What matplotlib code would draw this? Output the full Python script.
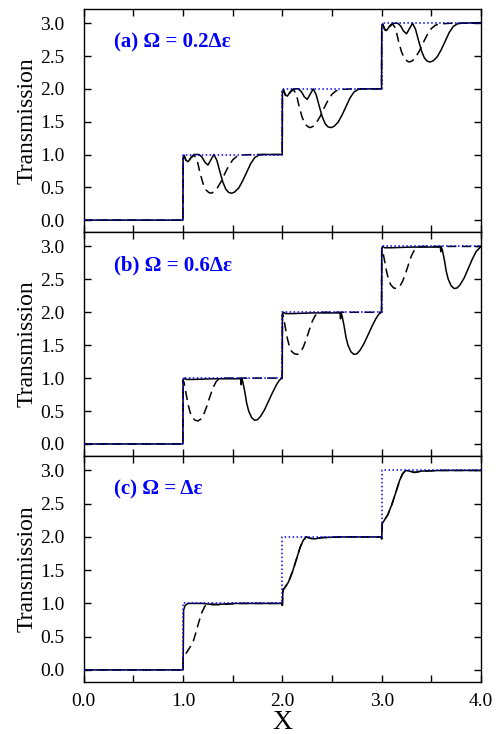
import numpy as np
import matplotlib.pyplot as plt
from matplotlib.ticker import MultipleLocator, FormatStrFormatter

plt.rcParams.update({"font.family": ["Liberation Serif", "DejaVu Serif"],
                     "font.size": 14,
                     "axes.linewidth": 1.0})

# ideal staircase (blue dotted), same in every panel
x_step = [0.0, 1.0, 1.0, 2.0, 2.0, 3.0, 3.0, 4.0]
y_step = [0.0, 0.0, 1.0, 1.0, 2.0, 2.0, 3.0, 3.0]

# panel (a)  Omega = 0.2 de
xa_dash = [0.0, 0.998, 1.0, 1.01, 1.03, 1.05, 1.08, 1.11, 1.14, 1.17, 1.20, 1.23, 1.26, 1.28, 1.31,
           1.34, 1.38, 1.42, 1.46, 1.50, 1.54, 1.58, 1.70, 1.998,
           2.0, 2.01, 2.03, 2.05, 2.08, 2.11, 2.14, 2.17, 2.20, 2.23, 2.26, 2.28, 2.31,
           2.34, 2.38, 2.42, 2.46, 2.50, 2.54, 2.58, 2.70, 2.998,
           3.0, 3.01, 3.03, 3.05, 3.08, 3.11, 3.14, 3.17, 3.20, 3.23, 3.26, 3.28, 3.31,
           3.34, 3.38, 3.42, 3.46, 3.50, 3.54, 3.58, 3.70, 4.0]
ya_dash = [0.0, 0.0, 0.93, 0.98, 0.90, 0.88, 0.95, 0.99, 0.92, 0.72, 0.56, 0.46, 0.42, 0.41, 0.43,
           0.48, 0.58, 0.71, 0.83, 0.92, 0.97, 0.99, 1.0, 1.0,
           1.93, 1.98, 1.90, 1.88, 1.95, 1.99, 1.92, 1.72, 1.56, 1.46, 1.42, 1.41, 1.43,
           1.48, 1.58, 1.71, 1.83, 1.92, 1.97, 1.99, 2.0, 2.0,
           2.93, 2.98, 2.90, 2.88, 2.95, 2.99, 2.92, 2.72, 2.56, 2.46, 2.42, 2.41, 2.43,
           2.48, 2.58, 2.71, 2.83, 2.92, 2.97, 2.99, 3.0, 3.0]

xa_solid = [0.0, 0.998, 1.0, 1.01, 1.03, 1.05, 1.08, 1.11, 1.16, 1.19, 1.22, 1.25, 1.28, 1.31,
            1.34, 1.37, 1.40, 1.43, 1.46, 1.49, 1.52, 1.56, 1.60, 1.64, 1.68, 1.72, 1.76, 1.80, 1.998,
            2.0, 2.01, 2.03, 2.05, 2.08, 2.11, 2.16, 2.19, 2.22, 2.25, 2.28, 2.31,
            2.34, 2.37, 2.40, 2.43, 2.46, 2.49, 2.52, 2.56, 2.60, 2.64, 2.68, 2.72, 2.76, 2.80, 2.998,
            3.0, 3.01, 3.03, 3.05, 3.08, 3.11, 3.16, 3.19, 3.22, 3.25, 3.28, 3.31,
            3.34, 3.37, 3.40, 3.43, 3.46, 3.49, 3.52, 3.56, 3.60, 3.64, 3.68, 3.72, 3.76, 3.80, 4.0]
ya_solid = [0.0, 0.0, 0.95, 0.99, 0.91, 0.89, 0.96, 1.0, 1.0, 0.96, 0.88, 0.84, 0.92, 1.0,
            0.91, 0.74, 0.58, 0.47, 0.42, 0.41, 0.43, 0.49, 0.60, 0.73, 0.86, 0.95, 0.99, 1.0, 1.0,
            1.95, 1.99, 1.91, 1.89, 1.96, 2.0, 2.0, 1.96, 1.88, 1.84, 1.92, 2.0,
            1.91, 1.74, 1.58, 1.47, 1.42, 1.41, 1.43, 1.49, 1.60, 1.73, 1.86, 1.95, 1.99, 2.0, 2.0,
            2.95, 2.99, 2.91, 2.89, 2.96, 3.0, 3.0, 2.96, 2.88, 2.84, 2.92, 3.0,
            2.91, 2.74, 2.58, 2.47, 2.42, 2.41, 2.43, 2.49, 2.60, 2.73, 2.86, 2.95, 2.99, 3.0, 3.01]

# panel (b)  Omega = 0.6 de
xb_dash = [0.0, 0.998, 1.0, 1.01, 1.03, 1.05, 1.07, 1.09, 1.12, 1.15, 1.18, 1.21, 1.24, 1.27,
           1.30, 1.33, 1.36, 1.40, 1.998,
           2.0, 2.01, 2.03, 2.05, 2.07, 2.09, 2.12, 2.15, 2.18, 2.21, 2.24, 2.27,
           2.30, 2.33, 2.36, 2.40, 2.998,
           3.0, 3.01, 3.03, 3.05, 3.07, 3.09, 3.12, 3.15, 3.18, 3.21, 3.24, 3.27,
           3.30, 3.33, 3.36, 3.40, 4.0]
yb_dash = [0.0, 0.0, 0.97, 0.93, 0.76, 0.60, 0.48, 0.41, 0.36, 0.35, 0.38, 0.46, 0.58, 0.72,
           0.85, 0.94, 0.99, 1.0, 1.0,
           1.97, 1.93, 1.76, 1.60, 1.48, 1.41, 1.37, 1.36, 1.39, 1.47, 1.59, 1.73,
           1.86, 1.95, 1.99, 2.0, 2.0,
           2.97, 2.93, 2.77, 2.61, 2.49, 2.42, 2.37, 2.36, 2.39, 2.47, 2.59, 2.73,
           2.86, 2.95, 2.99, 3.0, 3.0]

xb_solid = [0.0, 0.998, 1.0, 1.01, 1.03, 1.10, 1.30, 1.50, 1.58, 1.585, 1.59, 1.60, 1.62, 1.64,
            1.66, 1.69, 1.72, 1.75, 1.78, 1.82, 1.86, 1.90, 1.94, 1.97, 1.998,
            2.0, 2.01, 2.03, 2.10, 2.30, 2.50, 2.58, 2.585, 2.59, 2.60, 2.62, 2.64,
            2.66, 2.69, 2.72, 2.75, 2.78, 2.82, 2.86, 2.90, 2.94, 2.97, 2.998,
            3.0, 3.01, 3.03, 3.10, 3.30, 3.50, 3.59, 3.595, 3.60, 3.61, 3.63, 3.65,
            3.67, 3.70, 3.73, 3.76, 3.79, 3.83, 3.87, 3.91, 3.95, 4.0]
yb_solid = [0.0, 0.0, 0.97, 1.0, 0.98, 0.98, 0.99, 0.99, 0.99, 0.90, 0.99, 0.95, 0.80, 0.62,
            0.50, 0.40, 0.36, 0.37, 0.42, 0.52, 0.65, 0.78, 0.90, 0.97, 1.0,
            1.97, 2.0, 1.98, 1.98, 1.99, 1.99, 1.99, 1.90, 1.99, 1.95, 1.80, 1.62,
            1.50, 1.40, 1.36, 1.37, 1.42, 1.52, 1.65, 1.78, 1.90, 1.97, 2.0,
            2.97, 3.0, 2.98, 2.98, 2.99, 2.99, 2.99, 2.92, 2.99, 2.95, 2.80, 2.62,
            2.50, 2.40, 2.36, 2.37, 2.42, 2.52, 2.66, 2.80, 2.92, 3.0]

# panel (c)  Omega = de
xc_dash = [0.0, 0.998, 1.0, 1.03, 1.06, 1.10, 1.13, 1.16, 1.19, 1.22, 1.25, 1.30, 1.36, 1.45,
           1.60, 1.998, 1.999, 2.0, 2.005, 2.03, 2.06, 2.10, 2.14, 2.18, 2.21, 2.24, 2.28, 2.32,
           2.40, 2.60, 2.998, 2.999, 3.0, 3.005, 3.03, 3.06, 3.10, 3.14, 3.18, 3.21, 3.24, 3.28,
           3.33, 3.40, 3.60, 4.0]
yc_dash = [0.0, 0.0, 0.18, 0.25, 0.32, 0.42, 0.57, 0.73, 0.87, 0.96, 1.0, 0.99, 0.98, 0.99,
           1.0, 1.0, 0.97, 1.0, 1.20, 1.25, 1.32, 1.47, 1.66, 1.85, 1.95, 2.0, 1.98, 1.97,
           1.99, 2.0, 2.0, 1.97, 2.0, 2.20, 2.26, 2.33, 2.48, 2.66, 2.85, 2.95, 3.0, 2.99,
           2.97, 2.99, 3.0, 3.0]

xc_solid = [0.0, 0.998, 1.0, 1.005, 1.02, 1.05, 1.20, 1.30, 1.40, 1.50, 1.998, 1.999, 2.0, 2.005,
            2.03, 2.06, 2.10, 2.14, 2.18, 2.21, 2.24, 2.28, 2.32, 2.40, 2.60, 2.998, 2.999, 3.0,
            3.005, 3.03, 3.06, 3.10, 3.14, 3.18, 3.21, 3.24, 3.28, 3.33, 3.40, 3.60, 4.0]
yc_solid = [0.0, 0.0, 0.0, 0.90, 0.97, 1.0, 1.0, 0.98, 0.99, 1.0, 1.0, 0.97, 1.0, 1.20,
            1.25, 1.32, 1.47, 1.66, 1.85, 1.95, 2.0, 1.98, 1.97, 1.99, 2.0, 2.0, 1.97, 2.0,
            2.20, 2.26, 2.33, 2.48, 2.66, 2.85, 2.95, 3.0, 2.99, 2.97, 2.99, 3.0, 3.0]

panels = [
    ("(a) \u03a9 = 0.2\u0394\u03b5", xa_solid, ya_solid, xa_dash, ya_dash),
    ("(b) \u03a9 = 0.6\u0394\u03b5", xb_solid, yb_solid, xb_dash, yb_dash),
    ("(c) \u03a9 = \u0394\u03b5", xc_solid, yc_solid, xc_dash, yc_dash),
]

fig = plt.figure(figsize=(4.99, 7.34), dpi=100)
# [left, bottom, width, height]
rects = [[0.168, 0.684, 0.796, 0.304],
         [0.168, 0.379, 0.796, 0.305],
         [0.168, 0.071, 0.796, 0.308]]

for i, (label, xs, ys, xd, yd) in enumerate(panels):
    ax = fig.add_axes(rects[i])
    ax.plot(xs, ys, color="black", lw=1.1, ls="-")
    ax.plot(xd, yd, color="black", lw=1.1, ls=(0, (6, 3.5)))
    ax.plot(x_step, y_step, color="blue", lw=1.1, ls=(0, (1, 1.6)), zorder=5)

    ax.set_xlim(0, 4)
    ax.set_ylim(-0.18, 3.22)
    ax.xaxis.set_major_locator(MultipleLocator(1.0))
    ax.xaxis.set_minor_locator(MultipleLocator(0.5))
    ax.xaxis.set_major_formatter(FormatStrFormatter("%.1f"))
    ax.yaxis.set_major_locator(MultipleLocator(0.5))
    ax.yaxis.set_major_formatter(FormatStrFormatter("%.1f"))
    ax.tick_params(which="both", direction="in", top=True, right=True,
                   length=5, width=1.0, labelsize=14)
    ax.tick_params(axis="y", pad=14)
    ax.tick_params(axis="x", pad=8)
    if i < 2:
        ax.tick_params(labelbottom=False)
    else:
        ax.set_xlabel("X", fontsize=20, labelpad=0)
    ax.set_ylabel("Transmission", fontsize=17, labelpad=2)
    ax.text(0.075, 0.85, label, transform=ax.transAxes, color="blue",
            fontsize=15, fontweight="bold", va="center", ha="left")

fig.savefig("out.png", dpi=100)
